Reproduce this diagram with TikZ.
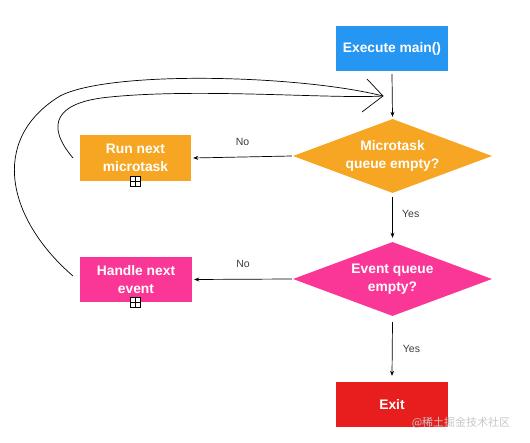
\documentclass[tikz,border=0pt]{standalone}
\usepackage{fontspec}
\setmainfont{Liberation Sans}
\newfontfamily\cjk{Noto Sans CJK SC}
\usetikzlibrary{shapes.geometric,arrows.meta}
\definecolor{cblue}{RGB}{38,150,243}
\definecolor{corange}{RGB}{246,166,35}
\definecolor{cpink}{RGB}{250,55,150}
\definecolor{cred}{RGB}{232,30,30}
\definecolor{clabel}{RGB}{60,60,60}
\tikzset{
  box/.style={rectangle, minimum width=112pt, minimum height=45pt, inner sep=0pt,
    text=white, font=\fontsize{13.8}{17.5}\selectfont\bfseries, align=center},
  decision/.style={diamond, aspect=2.69, minimum width=199pt, minimum height=74pt, inner sep=0pt,
    text=white, font=\fontsize{13.8}{17.5}\selectfont\bfseries, align=center},
  flow/.style={draw=black, line width=0.7pt, -{Stealth[length=5pt,width=4pt]}},
  loop/.style={draw=black, line width=0.7pt},
  lbl/.style={text=clabel, font=\fontsize{10.5}{12}\selectfont},
  plusbox/.style={draw=black, fill=white, line width=0.6pt, minimum size=10pt, inner sep=0pt,
    path picture={\draw[line width=0.6pt] (path picture bounding box.north) -- (path picture bounding box.south)
      (path picture bounding box.west) -- (path picture bounding box.east);}},
}
\begin{document}
\begin{tikzpicture}[x=1pt,y=-1pt]
\useasboundingbox (0,0) rectangle (530,443);
\node[box, fill=cblue] (exec) at (392,48.5) {Execute main()};
\node[decision, fill=corange] (micro) at (392.5,156) {Microtask\\queue empty?};
\node[box, fill=corange, minimum width=111pt, minimum height=46pt] (run) at (135.5,158) {Run next\\microtask};
\node[decision, fill=cpink] (event) at (392.5,279) {Event queue\\empty?};
\node[box, fill=cpink] (handle) at (136,279.5) {Handle next\\event};
\node[box, fill=cred] (exit) at (392,404.5) {Exit};
\node[plusbox] (p1) at (135.5,181.5) {};
\node[plusbox] (p2) at (135.5,302) {};

\coordinate (tip) at (383,96);
\coordinate (rs) at (73,158);
\coordinate (hs) at (73,276);

\draw[flow] ([yshift=-3pt]exec.south) -- ([yshift=2pt]micro.north);
\draw[flow] ([xshift=-1pt]micro.west) -- node[lbl, above=8pt, pos=0.5] (n1) {No} ([xshift=2pt]run.east);
\draw[flow] ([yshift=-4pt]micro.south) -- node[lbl, right=6pt, pos=0.42] (y1) {Yes} ([yshift=4pt]event.north);
\draw[flow] ([xshift=-1pt]event.west) -- node[lbl, above=8pt, pos=0.5] (n2) {No} ([xshift=2pt]handle.east);
\draw[flow] ([yshift=-6pt]event.south) -- node[lbl, right=7pt, pos=0.5] (y2) {Yes} ([yshift=6pt]exit.north);

\draw[loop] (rs) .. controls (45,125) and (55,102) .. (110,97) .. controls (200,88) and (330,99) .. (tip);
\draw[loop] (hs) .. controls (8,220) and (-12,140) .. (60,96) .. controls (110,70) and (300,75) .. (tip);
\draw[loop] ([shift={(-16,-17)}]tip) -- (tip) -- ([shift={(-21,16)}]tip);

\node[text=black!22, font=\cjk\fontsize{11}{13}\selectfont, anchor=center] (wm) at (461,423) {@稀土掘金技术社区};
\end{tikzpicture}
\end{document}
